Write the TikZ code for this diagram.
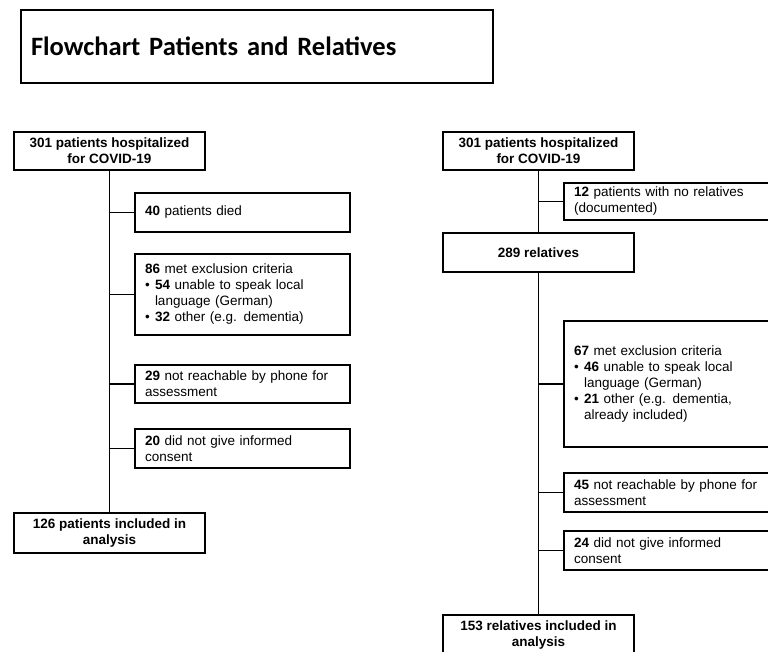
\documentclass[tikz,border=0pt]{standalone}
\usepackage{fontspec}
\setmainfont{Liberation Sans}
\newfontfamily\titlefont{Carlito}
\usetikzlibrary{positioning}

\begin{document}
\begin{tikzpicture}[x=1pt,y=-1pt,
        box/.style={draw,line width=1.1pt,inner sep=0pt,font=\fontsize{13.5}{16}\selectfont},
        mainbox/.style={box,font=\fontsize{13.5}{16}\selectfont\bfseries,align=center,minimum width=191pt},
        exclbox/.style={box,align=left,inner xsep=10pt,text width=#1},
        exclbox/.default=195pt,
        link/.style={line width=1.1pt}]
        \clip (0,0) rectangle (768,651);
        \node[box,inner xsep=10pt,text width=452pt,minimum height=73pt,align=left,font=\titlefont\fontsize{26.5}{30}\selectfont\bfseries] (title) at (257,46.5) {Flowchart Patients and Relatives};
        % patients
        \node[mainbox,minimum height=38pt] (pat) at (109.5,151) {301 patients hospitalized\\for COVID-19};
        \node[exclbox,minimum height=39pt] (died) at (242.5,212.5) {\textbf{40} patients died};
        \node[exclbox,minimum height=81pt] (pexcl) at (242.5,294.5) {\textbf{86} met exclusion criteria\\
                \makebox[10pt][l]{\textbullet}\textbf{54} unable to speak local\\
                \hspace*{10pt}language (German)\\
                \makebox[10pt][l]{\textbullet}\textbf{32} other (e.g. dementia)};
        \node[exclbox,minimum height=38pt] (pphone) at (242.5,384) {\textbf{29} not reachable by phone for\\assessment};
        \node[exclbox,minimum height=39pt] (pcons) at (242.5,448.5) {\textbf{20} did not give informed\\consent};
        \node[mainbox,minimum height=40pt] (pincl) at (109.5,533) {126 patients included in\\analysis};
        \draw[link] (pat) -- (pincl);
        \foreach \n in {died,pexcl,pphone,pcons}
                \draw[link] (pat.south |- \n.west) -- (\n.west);
        % relatives
        \node[mainbox,minimum height=38pt] (rpat) at (538.5,151) {301 patients hospitalized\\for COVID-19};
        \node[exclbox=206pt,minimum height=37pt] (norel) at (677,201.5) {\textbf{12} patients with no relatives\\(documented)};
        \node[mainbox,minimum height=39pt] (rel) at (538.5,252.5) {289 relatives};
        \node[exclbox=206pt,minimum height=126pt] (rexcl) at (677,384) {\textbf{67} met exclusion criteria\\
                \makebox[10pt][l]{\textbullet}\textbf{46} unable to speak local\\
                \hspace*{10pt}language (German)\\
                \makebox[10pt][l]{\textbullet}\textbf{21} other (e.g. dementia,\\
                \hspace*{10pt}already included)};
        \node[exclbox=206pt,minimum height=39pt] (rphone) at (677,492.5) {\textbf{45} not reachable by phone for\\assessment};
        \node[exclbox=206pt,minimum height=39pt] (rcons) at (677,550.5) {\textbf{24} did not give informed\\consent};
        \node[mainbox,minimum height=40pt] (rincl) at (538.5,635) {153 relatives included in\\analysis};
        \draw[link] (rpat) -- (rel);
        \draw[link] (rel) -- (rincl);
        \draw[link] (rpat.south |- norel.west) -- (norel.west);
        \foreach \n in {rexcl,rphone,rcons}
                \draw[link] (rel.south |- \n.west) -- (\n.west);
\end{tikzpicture}
\end{document}
